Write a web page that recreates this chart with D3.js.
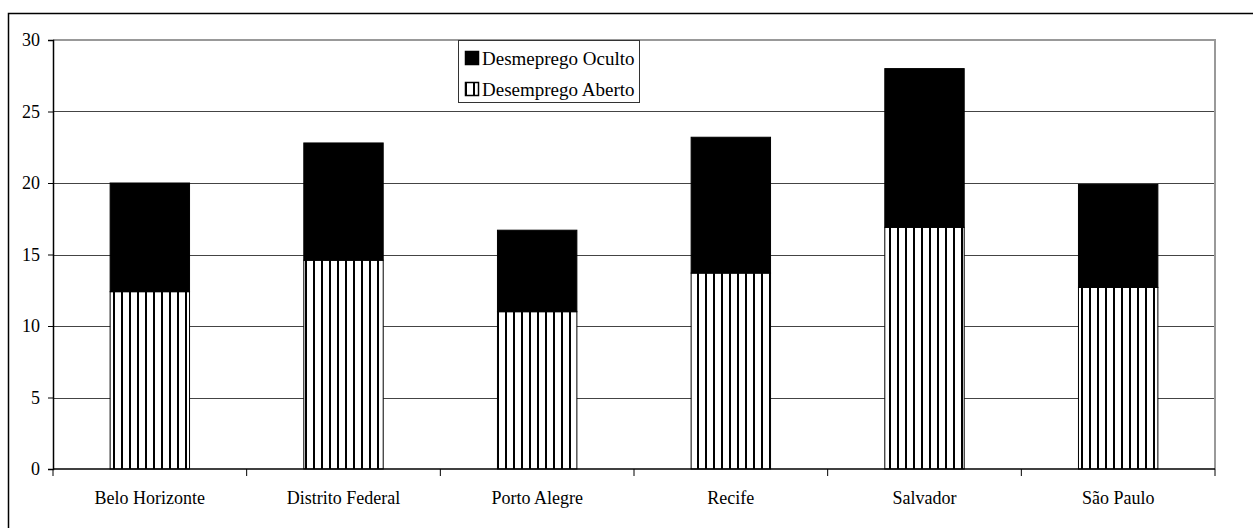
<!DOCTYPE html>
<html><head><meta charset="utf-8">
<script src="https://cdn.jsdelivr.net/npm/d3@7"></script>
<style>
html,body{margin:0;padding:0;background:#fff;}
svg{display:block;}
svg text{font-family:"Liberation Serif","Times New Roman","DejaVu Serif",serif !important;fill:#000;}
</style></head>
<body>
<svg id="chart" width="1253" height="528"></svg>
<script>
const categories = ["Belo Horizonte","Distrito Federal","Porto Alegre","Recife","Salvador","São Paulo"];
const desempregoAberto = [12.4, 14.6, 11.0, 13.7, 16.9, 12.7];
const desempregoOculto = [7.6, 8.2, 5.7, 9.5, 11.1, 7.2];
const seriesNames = ["Desmeprego Oculto","Desemprego Aberto"];
const yTicks = [0,5,10,15,20,25,30];

(function(){
const FONT = "'Liberation Serif', 'Times New Roman', serif";
const svg = d3.select("#chart").attr("font-family", FONT);
const pLeft = 53, pRight = 1215, pTop = 40, pBottom = 469;

// outer frame (only left/top visible)
svg.append("rect").attr("x",8.5).attr("y",13.5).attr("width",1300).attr("height",600)
  .attr("fill","none").attr("stroke","#000").attr("stroke-width",1.5);

const defs = svg.append("defs");
const pat = defs.append("pattern").attr("id","stripes").attr("patternUnits","userSpaceOnUse")
  .attr("width",8).attr("height",8).attr("x",0);
pat.append("rect").attr("width",8).attr("height",8).attr("fill","#fff");
pat.append("rect").attr("x",1).attr("width",2).attr("height",8).attr("fill","#000");

const x = d3.scaleBand().domain(categories).range([pLeft,pRight]).paddingInner(0.59).paddingOuter(0.295);
const y = d3.scaleLinear().domain([0,30]).range([pBottom,pTop]);

// gridlines
svg.append("g").selectAll("line").data(yTicks.filter(d=>d>0 && d<30)).join("line")
  .attr("x1",pLeft).attr("x2",pRight).attr("y1",d=>Math.round(y(d))+0.5).attr("y2",d=>Math.round(y(d))+0.5)
  .attr("stroke","#444").attr("stroke-width",1);

// plot area top/right border
svg.append("path").attr("d",`M${pLeft},${pTop} H${pRight} V${pBottom}`)
  .attr("fill","none").attr("stroke","#999").attr("stroke-width",2);

// bars
const g = svg.append("g");
categories.forEach((c,i)=>{
  const bx = x(c), bw = x.bandwidth();
  const yA = y(desempregoAberto[i]);
  const yT = y(desempregoAberto[i]+desempregoOculto[i]);
  g.append("rect").attr("x",bx).attr("y",yA).attr("width",bw).attr("height",pBottom-yA)
    .attr("fill","url(#stripes)").attr("stroke","#000").attr("stroke-width",1);
  g.append("rect").attr("x",bx).attr("y",yT).attr("width",bw).attr("height",yA-yT)
    .attr("fill","#000").attr("stroke","#000").attr("stroke-width",1);
});

// y axis
const yAxis = d3.axisLeft(y).tickValues(yTicks).tickSize(5).tickPadding(8).tickFormat(d3.format("d"));
const ya = svg.append("g").attr("transform",`translate(${pLeft},0)`).call(yAxis);
ya.attr("font-family", FONT).attr("font-size",18);
ya.select(".domain").attr("stroke","#000").attr("stroke-width",1.5);
ya.selectAll(".tick line").attr("stroke","#000");
ya.selectAll("text").attr("font-size",18).attr("font-family",FONT);

// x axis
const xa = svg.append("g").attr("transform",`translate(0,${pBottom})`);
xa.append("line").attr("x1",pLeft).attr("x2",pRight).attr("stroke","#000").attr("stroke-width",1.5);
const step = x.step();
xa.selectAll("line.tk").data(d3.range(categories.length+1)).join("line").attr("class","tk")
  .attr("x1",i=>pLeft+i*step).attr("x2",i=>pLeft+i*step).attr("y1",0).attr("y2",7).attr("stroke","#000");
xa.selectAll("text").data(categories).join("text")
  .attr("x",d=>x(d)+x.bandwidth()/2).attr("y",35).attr("text-anchor","middle").attr("font-size",18)
  .attr("font-family",FONT).text(d=>d);

// legend
const lg = svg.append("g");
lg.append("rect").attr("x",458.5).attr("y",40.5).attr("width",181).attr("height",62)
  .attr("fill","#fff").attr("stroke","#333").attr("stroke-width",1);
const fills = ["#000","url(#stripes)"];
seriesNames.forEach((s,i)=>{
  const yy = 51 + i*31;
  lg.append("rect").attr("x",465.5).attr("y",yy+0.5).attr("width",13).attr("height",13)
    .attr("fill",fills[i]).attr("stroke","#000").attr("stroke-width",1.5);
  lg.append("text").attr("x",482).attr("y",yy+14).attr("font-size",19).attr("font-family",FONT).text(s);
});
})();
</script>
</body></html>
